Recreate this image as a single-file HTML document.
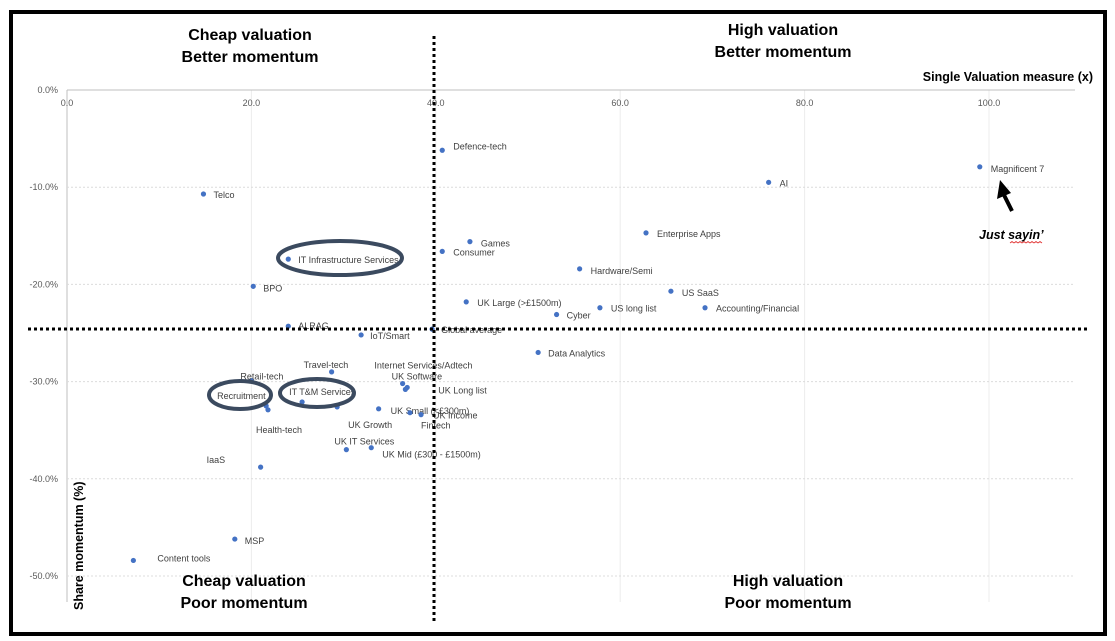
<!DOCTYPE html>
<html><head><meta charset="utf-8"><style>
body{margin:0;background:#fff;}
svg{display:block;font-family:"Liberation Sans",sans-serif;}
.pt{fill:#4472c4}
.lbl{font-size:9px;fill:#404040}
.tick{font-size:9px;fill:#595959}
.q{font-size:16px;font-weight:bold;fill:#000;text-anchor:middle}
</style></head><body>
<svg id="chart" width="1115" height="641" viewBox="0 0 1115 641">
<rect x="11" y="12" width="1094" height="622" fill="#fff" stroke="#000" stroke-width="4"/>
<g id="grid"></g>
<g id="marks"></g>
<line x1="434" y1="36" x2="434" y2="622" stroke="#000" stroke-width="3" stroke-dasharray="3,3"/>
<line x1="28" y1="329" x2="1088" y2="329" stroke="#000" stroke-width="3" stroke-dasharray="3,3"/>
<ellipse cx="340" cy="258" rx="62" ry="17" fill="none" stroke="#3b4a5f" stroke-width="4"/>
<ellipse cx="317" cy="393" rx="37" ry="14" fill="none" stroke="#3b4a5f" stroke-width="4"/>
<ellipse cx="240" cy="395" rx="31" ry="14" fill="none" stroke="#3b4a5f" stroke-width="4"/>
<text class="q" x="250" y="40">Cheap valuation</text>
<text class="q" x="250" y="62">Better momentum</text>
<text class="q" x="783" y="35">High valuation</text>
<text class="q" x="783" y="57">Better momentum</text>
<text class="q" x="244" y="586">Cheap valuation</text>
<text class="q" x="244" y="608">Poor momentum</text>
<text class="q" x="788" y="586">High valuation</text>
<text class="q" x="788" y="608">Poor momentum</text>
<text x="1093" y="81" text-anchor="end" font-size="12.5" font-weight="bold">Single Valuation measure (x)</text>
<text transform="translate(83,610) rotate(-90)" font-size="12.5" font-weight="bold">Share momentum (%)</text>
<g>
<line x1="1012" y1="211" x2="1004" y2="195" stroke="#000" stroke-width="4"/>
<polygon points="1000,180 997,199 1011,193" fill="#000"/>
</g>
<text x="979" y="239" font-size="12.5" font-weight="bold" font-style="italic">Just sayin’</text>
<path d="M1010 243 l2 -1.5 l2 1.5 l2 -1.5 l2 1.5 l2 -1.5 l2 1.5 l2 -1.5 l2 1.5 l2 -1.5 l2 1.5 l2 -1.5 l2 1.5 l2 -1.5 l2 1.5 l2 -1.5 l2 1.5" fill="none" stroke="#e03030" stroke-width="0.8"/>
</svg>
<script>
const names=["Defence-tech","Magnificent 7","Telco","AI","Enterprise Apps","Games","Consumer","IT Infrastructure Services","Hardware/Semi","BPO","US SaaS","UK Large (>£1500m)","US long list","Accounting/Financial","Cyber","ALRAG","Global average","IoT/Smart","Data Analytics","Travel-tech","Retail-tech","UK Software","Internet Services/Adtech","UK Long list","Recruitment","IT T&M Services","Health-tech","UK Growth","UK Small (<£300m)","UK Income","Fintech","UK IT Services","UK Mid (£300 - £1500m)","IaaS","MSP","Content tools"];
const valuation=[40.7,99.0,14.8,76.1,62.8,43.7,40.7,24.0,55.6,20.2,65.5,43.3,57.8,69.2,53.1,24.0,39.6,31.9,51.1,28.7,20.0,36.4,36.7,36.9,21.6,25.5,21.8,29.3,33.8,37.2,38.4,30.3,33.0,21.0,18.2,7.2];
const momentum=[-6.2,-7.9,-10.7,-9.5,-14.7,-15.6,-16.6,-17.4,-18.4,-20.2,-20.7,-21.8,-22.4,-22.4,-23.1,-24.3,-24.6,-25.2,-27.0,-29.0,-29.9,-30.2,-30.8,-30.6,-32.5,-32.1,-32.9,-32.6,-32.8,-33.2,-33.4,-37.0,-36.8,-38.8,-46.2,-48.4];
const xTicks=[0,20,40,60,80,100];
const yTicks=[0,-10,-20,-30,-40,-50];
const xTickLabels=["0.0","20.0","40.0","60.0","80.0","100.0"];
const yTickLabels=["0.0%","-10.0%","-20.0%","-30.0%","-40.0%","-50.0%"];
// label offsets (layout only)
const labelDx=[11,11,10,11,11,11,11,10,11,10,11,11,11,11,10,10,9,9,10,-28,-11,-11,-31,31,-49,-13,-12,11,12,23,0,-12,11,-54,10,24];
const labelDy=[-1,5,4,4,4,5,4,4,5,5,5,4,4,4,4,3,4,4,4,-4,-1,-4,-21,6,-7,-7,23,21,5,6,14,-5,10,-4,5,1];
const X=v=>67+v*9.22, Y=v=>90-v*9.72;
const NS="http://www.w3.org/2000/svg";
const grid=document.getElementById('grid'), marks=document.getElementById('marks');
function mk(t,a,p){const e=document.createElementNS(NS,t);for(const k in a)e.setAttribute(k,a[k]);p.appendChild(e);return e;}
xTicks.forEach((t,i)=>{
  const l=mk('line',{x1:X(t),y1:90,x2:X(t),y2:602,stroke:i==0?'#bfbfbf':'#ececec','stroke-width':1},grid);
  
  
  const tx=mk('text',{x:X(t),y:106,'text-anchor':'middle',class:'tick'},grid);tx.textContent=xTickLabels[i];
  
  
});
yTicks.forEach((t,i)=>{
  const l=mk('line',{x1:67,y1:Y(t),x2:1075,y2:Y(t),stroke:i==0?'#bfbfbf':'#dcdcdc','stroke-width':1,'stroke-dasharray':i==0?'none':'2,2'},grid);
  
  
  const tx=mk('text',{x:58,y:Y(t)+3,'text-anchor':'end',class:'tick'},grid);tx.textContent=yTickLabels[i];
  
  
});
names.forEach((n,i)=>{
  const c=mk('circle',{cx:X(valuation[i]),cy:Y(momentum[i]),r:2.6,class:'pt'},marks);
  
  
  const t=mk('text',{x:X(valuation[i])+labelDx[i],y:Y(momentum[i])+labelDy[i],class:'lbl'},marks);
  t.textContent=n;
  
  
});
</script>
</body></html>
